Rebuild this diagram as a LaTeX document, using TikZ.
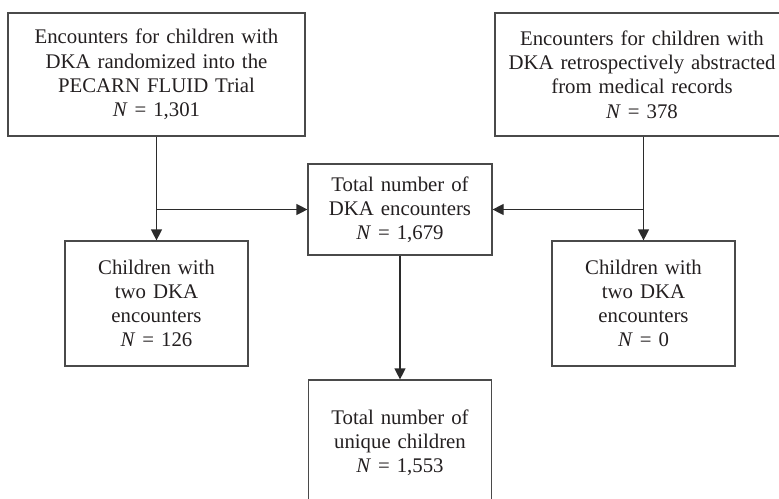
\documentclass[tikz,border=0pt]{standalone}
\usepackage{fontspec}
\setmainfont{Liberation Serif}
\usepackage{xcolor}
\usetikzlibrary{arrows.meta, positioning, calc}
\definecolor{flowline}{HTML}{2B2B2B}
\definecolor{flowbox}{HTML}{4A4A4A}
\definecolor{flowtext}{HTML}{231F20}

\begin{document}
\begin{tikzpicture}[
  x=1pt, y=-1pt,
  >={Triangle[length=11pt, width=11pt]},
  stepbox/.style={draw=flowbox, line width=1.2pt, align=center, inner sep=0pt,
    text=flowtext, font=\fontsize{20.8}{24.2}\selectfont},
  wide/.style={stepbox, minimum width=297pt, minimum height=123pt, text width=292pt},
  narrow/.style={stepbox, minimum width=183pt, minimum height=125pt, text width=180pt},
  flow/.style={->, draw=flowline, line width=1.2pt}
]

% frame of the picture (boxes run past it on the right and bottom)
\clip (0,0) rectangle (779,498);

% sources
\node[wide] (trial) at (156.5, 74.5) {Encounters for children with\\DKA randomized into the\\PECARN FLUID Trial\\\textit{N} = 1,301};
\node[wide, minimum width=294pt] (chart) at (642, 74.5) {Encounters for children with\\DKA retrospectively abstracted\\from medical records\\\textit{N} = 378};

% total encounters
\node[stepbox, minimum width=184pt, minimum height=91pt, text width=180pt] (total) at (400, 209.5) {Total number of\\DKA encounters\\\textit{N} = 1,679};

% repeat encounters
\node[narrow] (repL) at (156.5, 303.5) {Children with\\two DKA\\encounters\\\textit{N} = 126};
\node[narrow] (repR) at (643.5, 303.5) {Children with\\two DKA\\encounters\\\textit{N} = 0};

% unique children
\node[narrow] (unique) at (400, 442.5) {Total number of\\unique children\\\textit{N} = 1,553};

% branch points
\coordinate (jl) at (trial.south |- total.west);
\coordinate (jr) at (repR.north |- total.east);
\coordinate (cs) at (chart.south -| repR.north);

% connectors
\draw[flow] (trial.south) -- (repL.north);
\draw[flow] (jl) -- (total.west);
\draw[flow] (cs) -- (repR.north);
\draw[flow] (jr) -- (total.east);
\draw[flow] (total.south) -- (unique.north);

\end{tikzpicture}
\end{document}
